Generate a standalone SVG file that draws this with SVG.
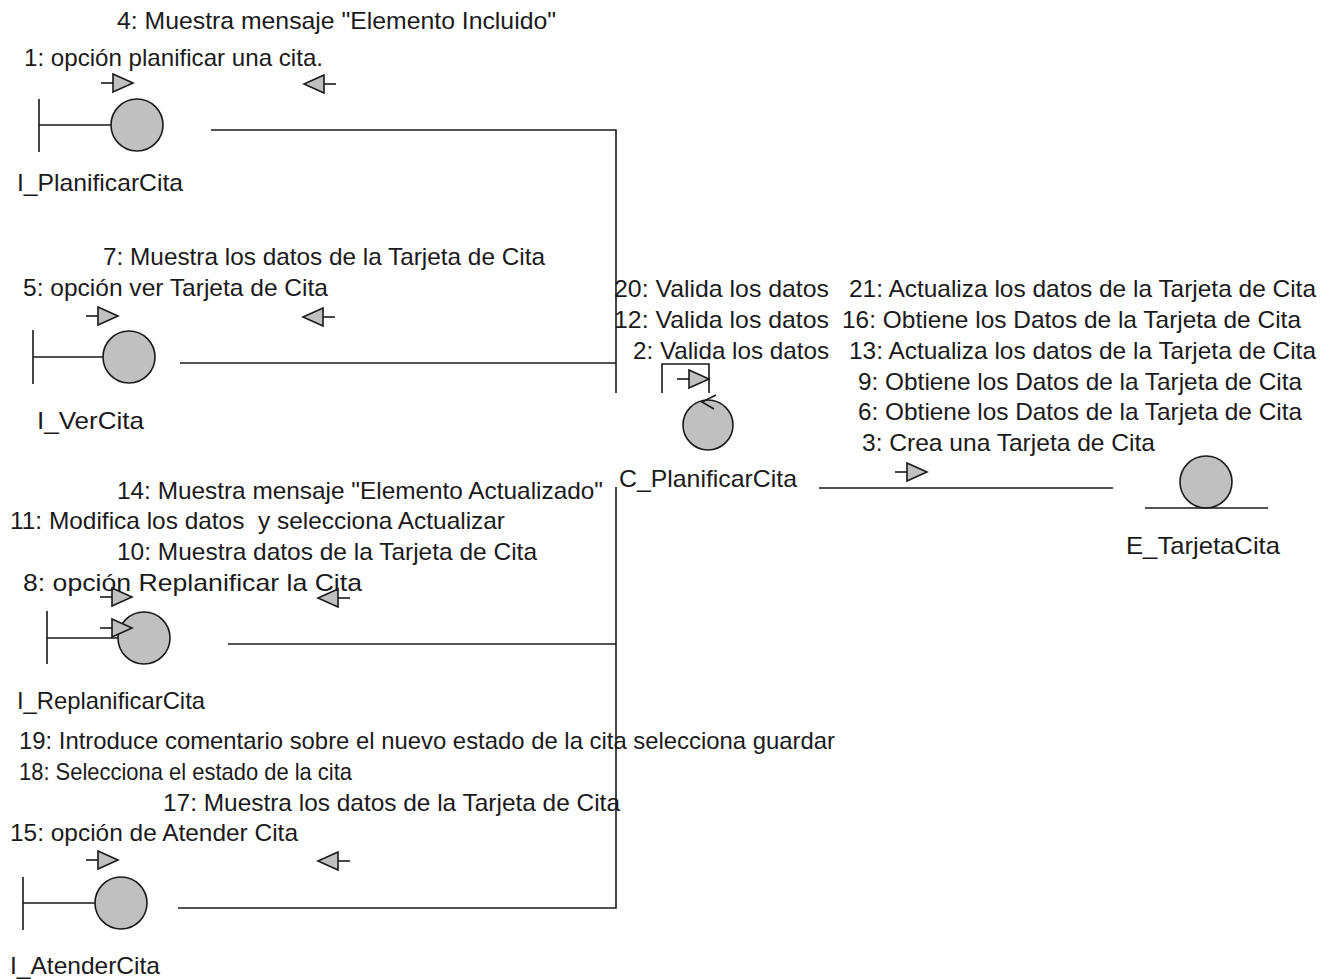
<svg xmlns="http://www.w3.org/2000/svg" xmlns:xlink="http://www.w3.org/1999/xlink" width="1335" height="979" viewBox="0 0 1335 979">
  <style>
    .lbl { font-family: "Liberation Sans", Arial, sans-serif; font-size: 24px; fill: #1a1a1a; }
    .ln { fill: none; stroke: #1a1a1a; stroke-width: 1.6; }
    .obj { fill: #c0c0c0; stroke: #1a1a1a; stroke-width: 1.6; }
  </style>
  <defs>
    <!-- message direction arrows: origin at the tail (right) or at the tip (left) -->
    <g id="msgR">
      <path class="ln" d="M0,0 H12"/>
      <path class="obj" d="M12,-9 L32,0 L12,9 Z"/>
    </g>
    <g id="msgL">
      <path class="ln" d="M20,0 H32"/>
      <path class="obj" d="M20,-9 L0,0 L20,9 Z"/>
    </g>
  </defs>
  <rect width="1335" height="979" fill="#ffffff"/>

  <!-- boundary: I_PlanificarCita -->
  <g id="I_PlanificarCita">
    <path class="ln" d="M39,99 V152 M39,125 H111"/>
    <ellipse class="obj" cx="137" cy="125" rx="26" ry="26"/>
    <text class="lbl" x="17" y="191" textLength="166" lengthAdjust="spacingAndGlyphs">I_PlanificarCita</text>
  </g>

  <!-- boundary: I_VerCita -->
  <g id="I_VerCita">
    <path class="ln" d="M33,330 V384 M33,357 H103"/>
    <ellipse class="obj" cx="129" cy="357" rx="26" ry="26"/>
    <text class="lbl" x="37" y="429" textLength="107" lengthAdjust="spacingAndGlyphs">I_VerCita</text>
  </g>

  <!-- boundary: I_ReplanificarCita -->
  <g id="I_ReplanificarCita">
    <path class="ln" d="M47,611 V664 M47,638 H118"/>
    <ellipse class="obj" cx="144" cy="638" rx="26" ry="26"/>
    <text class="lbl" x="17" y="709" textLength="188" lengthAdjust="spacingAndGlyphs">I_ReplanificarCita</text>
  </g>

  <!-- boundary: I_AtenderCita -->
  <g id="I_AtenderCita">
    <path class="ln" d="M23,877 V930 M23,903 H95"/>
    <ellipse class="obj" cx="121" cy="903" rx="26" ry="26"/>
    <text class="lbl" x="10" y="974" textLength="150" lengthAdjust="spacingAndGlyphs">I_AtenderCita</text>
  </g>

  <!-- control: C_PlanificarCita -->
  <g id="C_PlanificarCita">
    <ellipse class="obj" cx="708" cy="425" rx="25" ry="25"/>
    <text class="lbl" x="619" y="487" textLength="178" lengthAdjust="spacingAndGlyphs">C_PlanificarCita</text>
  </g>

  <!-- entity: E_TarjetaCita -->
  <g id="E_TarjetaCita">
    <ellipse class="obj" cx="1206" cy="482" rx="26" ry="26"/>
    <path class="ln" d="M1145,508 H1268"/>
    <text class="lbl" x="1126" y="554" textLength="154" lengthAdjust="spacingAndGlyphs">E_TarjetaCita</text>
  </g>

  <!-- links between the objects -->
  <g id="connectors">
    <path class="ln" d="M211,130 H616 V393"/>
    <path class="ln" d="M180,363 H616"/>
    <path class="ln" d="M616,487 V908 H178"/>
    <path class="ln" d="M228,644 H616"/>
    <path class="ln" d="M819,488 H1113"/>
    <!-- self link on the control -->
    <path class="ln" d="M662,393 V364 H709 V393"/>
    <path class="ln" d="M716,395 L702,402 L714,409"/>
  </g>

  <!-- message arrows -->
  <g id="messages">
    <use xlink:href="#msgR" x="101" y="83"/>
    <use xlink:href="#msgL" x="304" y="84"/>
    <use xlink:href="#msgR" x="86" y="316"/>
    <use xlink:href="#msgL" x="303" y="317"/>
    <use xlink:href="#msgR" x="677" y="379"/>
    <use xlink:href="#msgR" x="895" y="472"/>
    <use xlink:href="#msgR" x="100" y="597"/>
    <use xlink:href="#msgR" x="100" y="628"/>
    <use xlink:href="#msgL" x="318" y="598"/>
    <use xlink:href="#msgR" x="86" y="860"/>
    <use xlink:href="#msgL" x="318" y="861"/>
  </g>

  <!-- message labels -->
  <g id="labels" class="lbl">
    <text x="117" y="29" textLength="439" lengthAdjust="spacingAndGlyphs">4: Muestra mensaje "Elemento Incluido"</text>
    <text x="24" y="66" textLength="299" lengthAdjust="spacingAndGlyphs">1: opción planificar una cita.</text>

    <text x="103" y="265" textLength="442" lengthAdjust="spacingAndGlyphs">7: Muestra los datos de la Tarjeta de Cita</text>
    <text x="23" y="296" textLength="305" lengthAdjust="spacingAndGlyphs">5: opción ver Tarjeta de Cita</text>

    <text x="614" y="297" textLength="215" lengthAdjust="spacingAndGlyphs">20: Valida los datos</text>
    <text x="614" y="328" textLength="215" lengthAdjust="spacingAndGlyphs">12: Valida los datos</text>
    <text x="633" y="359" textLength="196" lengthAdjust="spacingAndGlyphs">2: Valida los datos</text>

    <text x="849" y="297" textLength="467" lengthAdjust="spacingAndGlyphs">21: Actualiza los datos de la Tarjeta de Cita</text>
    <text x="842" y="328" textLength="459" lengthAdjust="spacingAndGlyphs">16: Obtiene los Datos de la Tarjeta de Cita</text>
    <text x="849" y="359" textLength="467" lengthAdjust="spacingAndGlyphs">13: Actualiza los datos de la Tarjeta de Cita</text>
    <text x="858" y="390" textLength="444" lengthAdjust="spacingAndGlyphs">9: Obtiene los Datos de la Tarjeta de Cita</text>
    <text x="858" y="420" textLength="444" lengthAdjust="spacingAndGlyphs">6: Obtiene los Datos de la Tarjeta de Cita</text>
    <text x="862" y="451" textLength="293" lengthAdjust="spacingAndGlyphs">3: Crea una Tarjeta de Cita</text>

    <text x="117" y="499" textLength="486" lengthAdjust="spacingAndGlyphs">14: Muestra mensaje "Elemento Actualizado"</text>
    <text x="10" y="529" textLength="495" lengthAdjust="spacingAndGlyphs" xml:space="preserve">11: Modifica los datos  y selecciona Actualizar</text>
    <text x="117" y="560" textLength="420" lengthAdjust="spacingAndGlyphs">10: Muestra datos de la Tarjeta de Cita</text>
    <text x="23" y="591" textLength="339" lengthAdjust="spacingAndGlyphs">8: opción Replanificar la Cita</text>

    <text x="19" y="749" textLength="816" lengthAdjust="spacingAndGlyphs">19: Introduce comentario sobre el nuevo estado de la cita selecciona guardar</text>
    <text x="19" y="780" textLength="333" lengthAdjust="spacingAndGlyphs">18: Selecciona el estado de la cita</text>
    <text x="163" y="811" textLength="457" lengthAdjust="spacingAndGlyphs">17: Muestra los datos de la Tarjeta de Cita</text>
    <text x="10" y="841" textLength="288" lengthAdjust="spacingAndGlyphs">15: opción de Atender Cita</text>
  </g>
</svg>
